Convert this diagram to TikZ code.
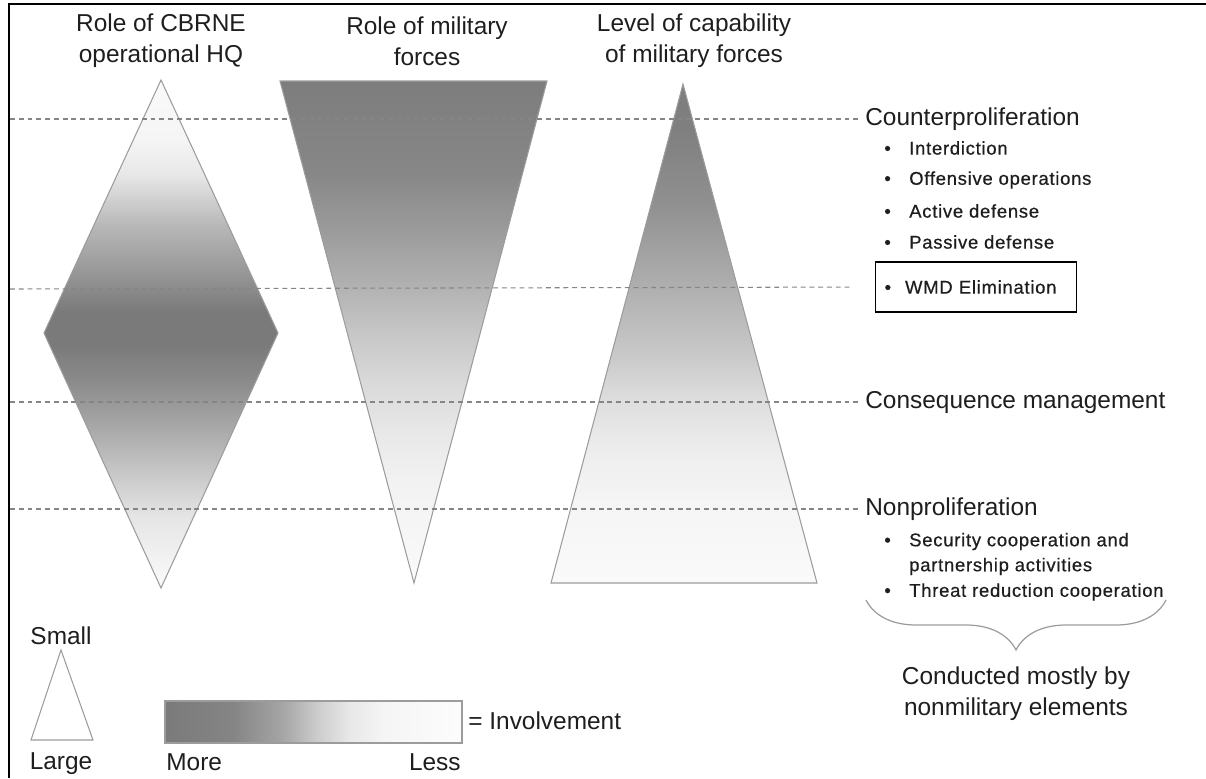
\documentclass[tikz,border=0pt]{standalone}
\usepackage{fontspec}
\setmainfont{Liberation Sans}
\newfontfamily\itemfont[LetterSpace=4,FakeBold=0.6]{Liberation Sans}
\usetikzlibrary{decorations.pathreplacing}
\definecolor{Edge}{HTML}{9C9C9C}
\definecolor{Guide}{HTML}{858585}
\definecolor{Ink}{HTML}{1E1E1E}

% involvement shadings (dark = more)
\pgfdeclareverticalshading{hqshade}{100bp}{color(0bp)=(black!2); color(25bp)=(black!2);
  color(26.9bp)=(black!4); color(31.9bp)=(black!10); color(35.3bp)=(black!19);
  color(40.4bp)=(black!33); color(45.5bp)=(black!46); color(48.9bp)=(black!52);
  color(52.3bp)=(black!52); color(55.6bp)=(black!42); color(60.7bp)=(black!28);
  color(65.8bp)=(black!9); color(69.1bp)=(black!4); color(75bp)=(black!2); color(100bp)=(black!2)}
\pgfdeclareverticalshading{forceshade}{100bp}{color(0bp)=(black!2); color(25bp)=(black!2);
  color(35bp)=(black!5); color(40bp)=(black!9); color(45.2bp)=(black!15);
  color(50.4bp)=(black!23); color(55.5bp)=(black!32); color(60.7bp)=(black!40);
  color(65.8bp)=(black!47); color(75bp)=(black!51); color(100bp)=(black!51)}
\pgfdeclareverticalshading{capshade}{100bp}{color(0bp)=(black!2); color(25bp)=(black!2);
  color(33.3bp)=(black!4); color(38.3bp)=(black!7); color(43.3bp)=(black!13);
  color(48.3bp)=(black!22); color(54.4bp)=(black!31); color(63.4bp)=(black!44);
  color(70.4bp)=(black!50); color(75bp)=(black!51); color(100bp)=(black!51)}
\pgfdeclarehorizontalshading{keyshade}{100bp}{color(0bp)=(black!52); color(25bp)=(black!52);
  color(36.4bp)=(black!48); color(44.9bp)=(black!35); color(50.6bp)=(black!20);
  color(56.1bp)=(black!9); color(61.7bp)=(black!4); color(75bp)=(black!1); color(100bp)=(black!1)}

\begin{document}
\begin{tikzpicture}[x=0.02cm,y=-0.02cm,
    head/.style={font=\fontsize{13.9}{17.6}\selectfont,text=Ink,inner sep=0pt},
    title/.style={head,align=center},
    item/.style={font=\itemfont\fontsize{10.5}{14.2}\selectfont,text=Ink,
      inner sep=0pt,anchor=west,align=left},
    guide/.style={Guide,line width=0.6pt,dash pattern=on 2.8pt off 2.2pt},
    body/.style={draw=Edge,line width=0.6pt}
  ]
    \useasboundingbox (0,0) rectangle (1206,778);
    \draw[line width=1.2pt] (9,778) -- (9,4) -- (1206,4);

    % columns
    \node[title] (thq) at (161,41) {Role of CBRNE\\operational HQ};
    \node[title] (tmil) at (427,41) {Role of military\\forces};
    \node[title] (tcap) at (694,41) {Level of capability\\of military forces};

    \shadedraw[body,shading=hqshade] (161,80) -- (278,333) -- (161,588)
      -- (44,333) -- cycle;
    \shadedraw[body,shading=forceshade] (280,81) -- (547,81) -- (414,583) -- cycle;
    \shadedraw[body,shading=capshade] (683,84) -- (817,583) -- (551,583) -- cycle;

    % mission areas
    \node[head,anchor=west] (cp) at (865,119) {Counterproliferation};
    \foreach \t/\y [count=\i] in {Interdiction/148,Offensive operations/180,
        Active defense/211,Passive defense/242}
      \node[item] (cp\i) at (884,\y) {\textbullet\hspace{10.5pt}\t};
    \node[item,draw=black,line width=0.7pt,inner xsep=0.18cm,text width=3.66cm,
      minimum height=1cm] (wmd) at (875,287) {\textbullet\hspace{8pt}WMD Elimination};
    \node[head,anchor=west] (cm) at (865,402) {Consequence management};
    \node[head,anchor=west] (np) at (865,509) {Nonproliferation};
    \node[item] (np1) at (884,554) {\textbullet\hspace{10.5pt}Security cooperation and\\
      \phantom{\textbullet}\hspace{10.5pt}partnership activities};
    \node[item] (np2) at (884,592) {\textbullet\hspace{10.5pt}Threat reduction cooperation};

    \coordinate (g1) at (10,119);
    \coordinate (g2) at (10,289);
    \coordinate (g3) at (10,402);
    \coordinate (g4) at (10,509);
    \draw[guide,shorten >=0.14cm] (g1) -- (cp.west);
    \draw[guide,shorten >=0.44cm] (g2) -- (wmd.west);
    \draw[guide,shorten >=0.14cm] (g3) -- (cm.west);
    \draw[guide,shorten >=0.14cm] (g4) -- (np.west);

    \coordinate (bl) at (866,600);
    \coordinate (br) at (1166,600);
    \draw[Edge,line width=0.7pt,decorate,decoration={brace,mirror,amplitude=1cm}]
      (bl) -- (br);
    \node[title] (nonmil) at (1016,694) {Conducted mostly by\\nonmilitary elements};

    % key
    \node[head] (small) at (61,636) {Small};
    \draw[body,fill=white] (61,650) -- (93,740) -- (31,740) -- cycle;
    \node[head] (large) at (61,764) {Large};
    \shadedraw[body,shading=keyshade] (165,701) rectangle (462,743);
    \node[head,anchor=west] (more) at (166,762) {More};
    \node[head,anchor=east] (less) at (461,762) {Less};
    \node[head,anchor=west] (inv) at (468,721) {= Involvement};
  \end{tikzpicture}
\end{document}
